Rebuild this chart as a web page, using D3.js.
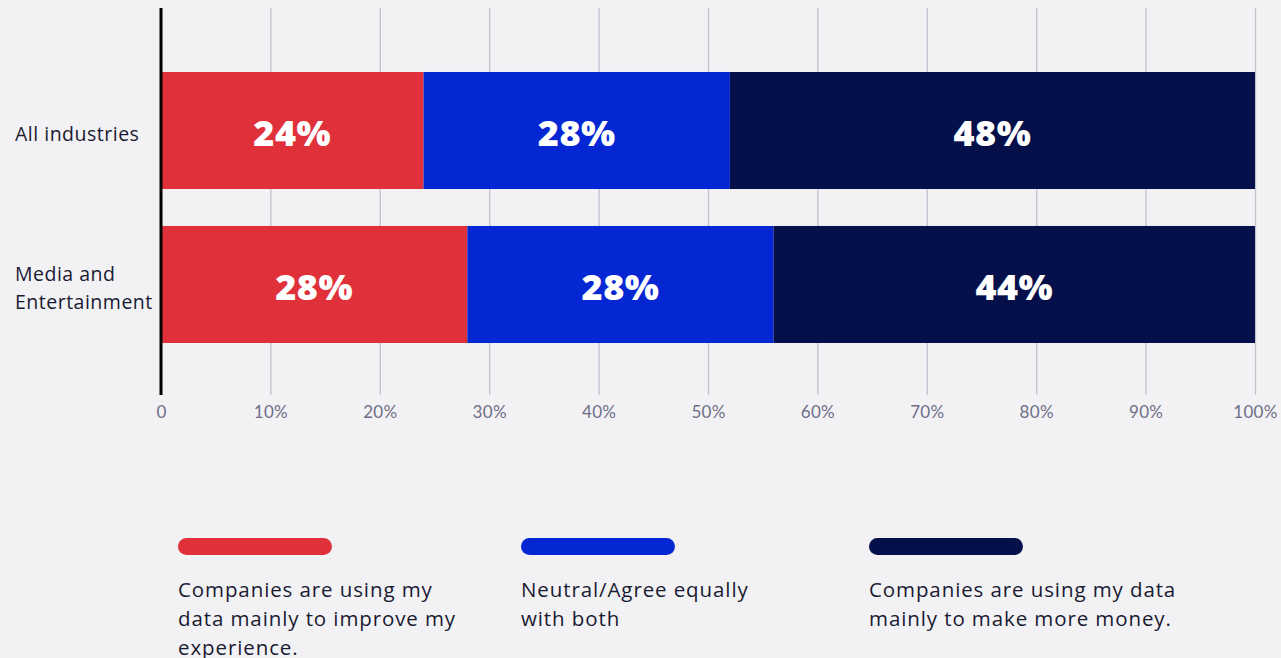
<!DOCTYPE html>
<html>
<head>
<meta charset="utf-8">
<script src="https://cdn.jsdelivr.net/npm/d3@7/dist/d3.min.js"></script>
<style>
  html, body { margin: 0; padding: 0; background: #f2f2f4; }
  svg { display: block; font-family: "Open Sans", Lato, sans-serif; }
</style>
</head>
<body>
<svg id="chart" width="1281" height="658"></svg>
<script>
// Survey answers by industry, in percent
const categories = ["All industries", "Media and Entertainment"];
const categoryLines = [["All industries"], ["Media and", "Entertainment"]];
const seriesNames = [
  "Companies are using my data mainly to improve my experience.",
  "Neutral/Agree equally with both",
  "Companies are using my data mainly to make more money."
];
const legendLines = [
  ["Companies are using my", "data mainly to improve my", "experience."],
  ["Neutral/Agree equally", "with both"],
  ["Companies are using my data", "mainly to make more money."]
];
const improveValues = [24, 28];
const neutralValues = [28, 28];
const moneyValues = [48, 44];
const tickValues = [0, 10, 20, 30, 40, 50, 60, 70, 80, 90, 100];
const colors = ["#e0313b", "#0527d3", "#050f4a"];

const svg = d3.select("#chart");
const x = d3.scaleLinear().domain([0, 100]).range([161, 1255]);
const y = d3.scaleBand().domain(categories).range([10.4, 404.6]).paddingInner(0.24).paddingOuter(0.4);

const rows = categories.map((c, i) => ({ cat: c, improve: improveValues[i], neutral: neutralValues[i], money: moneyValues[i] }));
const keys = ["improve", "neutral", "money"];
const stacked = d3.stack().keys(keys)(rows);

// vertical gridlines
const axis = d3.axisBottom(x).tickValues(tickValues)
  .tickFormat(d => d === 0 ? "0" : d + "%")
  .tickSize(387).tickSizeOuter(0).tickPadding(11);
const gAxis = svg.append("g").attr("transform", "translate(0,8)").call(axis);
gAxis.select(".domain").remove();
gAxis.selectAll(".tick line").attr("stroke", "#c2c2d0").attr("stroke-width", 1.3);
gAxis.selectAll(".tick text").attr("fill", "#6e6e88").attr("font-size", 17)
  .attr("font-family", "Lato, sans-serif").attr("letter-spacing", 0.3);

// stacked bars
const layers = svg.append("g").selectAll("g").data(stacked).join("g")
  .attr("fill", (d, i) => colors[i]);
layers.selectAll("rect").data(d => d).join("rect")
  .attr("x", d => x(d[0]))
  .attr("y", d => y(d.data.cat))
  .attr("width", d => x(d[1]) - x(d[0]))
  .attr("height", y.bandwidth());

// value labels
layers.each(function(layer) {
  d3.select(this).selectAll("text").data(layer).join("text")
    .attr("x", d => (x(d[0]) + x(d[1])) / 2)
    .attr("y", d => y(d.data.cat) + y.bandwidth() / 2)
    .attr("dy", "0.44em")
    .attr("text-anchor", "middle")
    .attr("fill", "#ffffff")
    .attr("font-weight", 800)
    .attr("font-size", 36)
    .attr("letter-spacing", 0.5)
    .text(d => (d[1] - d[0]) + "%");
});

// baseline axis
svg.append("line")
  .attr("x1", x(0)).attr("x2", x(0))
  .attr("y1", 8).attr("y2", 395)
  .attr("stroke", "#000").attr("stroke-width", 3);

// category labels
categories.forEach((c, i) => {
  const lines = categoryLines[i];
  const cy = y(c) + y.bandwidth() / 2;
  const lh = 28;
  const t = svg.append("text")
    .attr("x", 15).attr("fill", "#1a1a33").attr("font-size", 19.5)
    .attr("letter-spacing", 0.5);
  lines.forEach((ln, j) => {
    t.append("tspan").attr("x", 15)
      .attr("y", cy + (j - (lines.length - 1) / 2) * lh)
      .attr("dy", "0.55em").text(ln);
  });
});

// legend
const legendX = [178, 521, 869];
const legend = svg.append("g").selectAll("g").data(seriesNames).join("g")
  .attr("transform", (d, i) => `translate(${legendX[i]},538)`);
legend.append("rect")
  .attr("width", 154).attr("height", 17).attr("rx", 8.5)
  .attr("fill", (d, i) => colors[i]);
legend.append("text")
  .attr("fill", "#1a1a33").attr("font-size", 20.5)
  .attr("letter-spacing", 0.9)
  .each(function(d, i) {
    const t = d3.select(this);
    legendLines[i].forEach((ln, j) => {
      t.append("tspan").attr("x", 0).attr("y", 59 + j * 29).text(ln);
    });
  });
</script>
</body>
</html>
